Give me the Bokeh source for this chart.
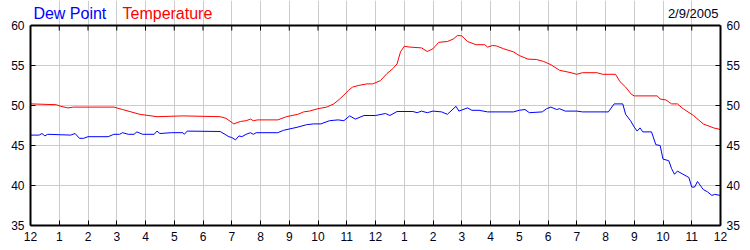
import math
from bokeh.plotting import figure
from bokeh.models import FixedTicker, LinearAxis, Range1d, Label
from bokeh.embed import file_html
from bokeh.resources import INLINE

# hours since midnight and readings (deg F)
temp_hours = [0.0, 0.9, 1.05, 1.3, 1.5, 2.9, 3.2, 3.5, 3.8, 4.4, 5.3, 6.6, 6.8, 7.07, 7.3, 7.5,
              7.65, 7.75, 7.9, 8.6, 8.9, 9.3, 9.5, 9.7, 10.0, 10.3, 10.55, 10.75, 10.9, 11.06,
              11.2, 11.4, 11.7, 11.9, 12.17, 12.4, 12.6, 12.75, 12.87, 13.0, 13.2, 13.6, 13.8,
              14.0, 14.2, 14.5, 14.7, 14.85, 15.0, 15.2, 15.5, 15.8, 15.9, 16.07, 16.2, 16.45,
              16.8, 17.0, 17.3, 17.6, 17.85, 18.1, 18.4, 18.8, 19.0, 19.2, 19.7, 19.9, 20.35,
              20.5, 20.7, 20.9, 21.0, 21.8, 21.9, 22.1, 22.3, 22.5, 22.7, 23.06, 23.4, 23.76, 24.0]
temperature = [50.2, 50.1, 49.9, 49.7, 49.8, 49.8, 49.5, 49.2, 48.9, 48.6, 48.7, 48.6, 48.4, 47.7,
               48.0, 48.1, 48.3, 48.1, 48.2, 48.2, 48.6, 48.9, 49.2, 49.3, 49.6, 49.8, 50.2, 50.8,
               51.3, 51.9, 52.3, 52.5, 52.7, 52.7, 53.1, 54.0, 54.6, 55.2, 56.7, 57.4, 57.3, 57.2,
               56.75, 57.1, 57.9, 58.0, 58.3, 58.75, 58.7, 58.0, 57.6, 57.6, 57.3, 57.5, 57.45,
               57.1, 56.7, 56.25, 55.8, 55.75, 55.5, 55.1, 54.4, 54.1, 53.9, 54.1, 54.1, 53.9,
               53.9, 53.0, 52.3, 51.4, 51.2, 51.2, 50.8, 50.7, 50.2, 50.2, 49.6, 48.75, 47.7,
               47.2, 47.0]

dew_hours = [0.0, 0.3, 0.4, 0.5, 0.6, 1.0, 1.4, 1.55, 1.7, 1.85, 2.0, 2.7, 2.9, 3.1, 3.2, 3.4,
             3.6, 3.7, 3.9, 4.3, 4.4, 4.5, 4.9, 5.3, 5.35, 5.45, 6.6, 6.9, 7.0, 7.13, 7.25, 7.35,
             7.5, 7.65, 7.75, 7.85, 8.6, 8.8, 9.3, 9.6, 9.85, 10.1, 10.4, 10.7, 10.9, 11.1, 11.3,
             11.6, 12.0, 12.35, 12.5, 12.75, 13.3, 13.45, 13.6, 13.8, 14.0, 14.3, 14.5, 14.8,
             14.9, 15.2, 15.35, 15.6, 15.9, 16.8, 17.0, 17.2, 17.35, 17.8, 17.95, 18.1, 18.3,
             18.4, 18.6, 19.0, 19.2, 20.1, 20.3, 20.6, 20.7, 20.87, 21.0, 21.1, 21.2, 21.3,
             21.6, 21.75, 21.9, 22.0, 22.2, 22.3, 22.4, 22.5, 22.9, 23.0, 23.1, 23.2, 23.4,
             23.55, 23.7, 23.8, 24.0]
dew_point = [46.3, 46.3, 46.5, 46.2, 46.4, 46.35, 46.3, 46.5, 45.9, 45.9, 46.1, 46.1, 46.4, 46.4,
             46.6, 46.4, 46.4, 46.7, 46.4, 46.4, 46.8, 46.5, 46.6, 46.6, 46.4, 46.8, 46.75, 46.1,
             46.0, 45.7, 46.2, 46.1, 46.4, 46.6, 46.4, 46.6, 46.6, 46.9, 47.3, 47.6, 47.7, 47.7,
             48.1, 48.2, 48.1, 48.7, 48.3, 48.75, 48.75, 49.0, 48.75, 49.25, 49.25, 49.1, 49.3,
             49.1, 49.3, 49.2, 48.9, 49.9, 49.3, 49.7, 49.4, 49.4, 49.2, 49.2, 49.4, 49.5, 49.1,
             49.2, 49.6, 49.8, 49.5, 49.6, 49.3, 49.3, 49.2, 49.2, 50.2, 50.2, 48.9, 48.1, 47.3,
             46.8, 47.2, 46.7, 46.7, 45.1, 45.0, 43.3, 43.1, 42.1, 41.4, 41.8, 41.0, 39.8, 39.8,
             40.5, 39.5, 39.2, 38.75, 38.9, 38.75]

x_ticks = list(range(25))
x_tick_labels = ["12", "1", "2", "3", "4", "5", "6", "7", "8", "9", "10", "11",
                 "12", "1", "2", "3", "4", "5", "6", "7", "8", "9", "10", "11", "12"]
y_ticks = [35, 40, 45, 50, 55, 60]
date_text = "2/9/2005"

FONT = "Liberation Sans"
TXT = "#000020"

Y_LO, Y_HI = y_ticks[0], y_ticks[-1]
PX_PER_UNIT = 8.0                     # 200 px plot height for 25 degrees
HEADER = 25 / PX_PER_UNIT             # header band above the plot, inside the frame

p = figure(width=750, height=250, x_range=Range1d(0, 24),
           y_range=Range1d(Y_LO, Y_HI + HEADER),
           output_backend="svg", toolbar_location=None,
           min_border_left=30, min_border_right=30, min_border_top=0, min_border_bottom=25)
p.outline_line_color = None
p.background_fill_color = "white"
p.border_fill_color = "white"

def style_axis(ax):
    ax.axis_line_color = "black"
    ax.axis_line_width = 2
    ax.major_tick_in = 5
    ax.major_tick_out = 0
    ax.minor_tick_in = 0
    ax.minor_tick_out = 0
    ax.major_tick_line_color = "black"
    ax.major_label_text_font = FONT
    ax.major_label_text_color = TXT
    ax.major_label_text_font_size = "12px"
    ax.major_label_standoff = 6

xt = FixedTicker(ticks=x_ticks)
yt = FixedTicker(ticks=y_ticks)
overrides = {i: lab for i, lab in zip(x_ticks, x_tick_labels)}

bottom = p.xaxis[0]
bottom.ticker = xt
bottom.major_label_overrides = overrides
style_axis(bottom)

left = p.yaxis[0]
left.ticker = yt
left.bounds = (Y_LO, Y_HI)
style_axis(left)

right = LinearAxis(ticker=yt, bounds=(Y_LO, Y_HI))
style_axis(right)
p.add_layout(right, "right")

p.xgrid.ticker = xt
p.xgrid.bounds = (Y_LO, Y_HI)
p.ygrid.ticker = yt
p.xgrid.grid_line_color = "#cccccc"
p.ygrid.grid_line_color = "#cccccc"

# top frame line with inward ticks
p.line([x_ticks[0], x_ticks[-1]], [Y_HI, Y_HI], line_color="black", line_width=2)
p.ray(x=x_ticks, y=[Y_HI] * len(x_ticks), length=5, length_units="screen",
      angle=-math.pi / 2, line_color="black", line_width=1)

p.line(temp_hours, temperature, line_color="#ff0000", line_width=1)
p.line(dew_hours, dew_point, line_color="#0000ff", line_width=1)

hy = Y_HI + 12 / PX_PER_UNIT
p.add_layout(Label(x=0.1, y=hy, text="Dew Point", text_color="#0000ff", text_font=FONT,
                   text_font_size="16px", text_baseline="middle"))
p.add_layout(Label(x=3.2, y=hy, text="Temperature", text_color="#ff0000", text_font=FONT,
                   text_font_size="16px", text_baseline="middle"))
p.add_layout(Label(x=23.93, y=hy, text=date_text, text_color=TXT, text_align="right",
                   text_font=FONT, text_font_size="13px", text_baseline="middle"))

open("out.html", "w").write(file_html(p, INLINE))
